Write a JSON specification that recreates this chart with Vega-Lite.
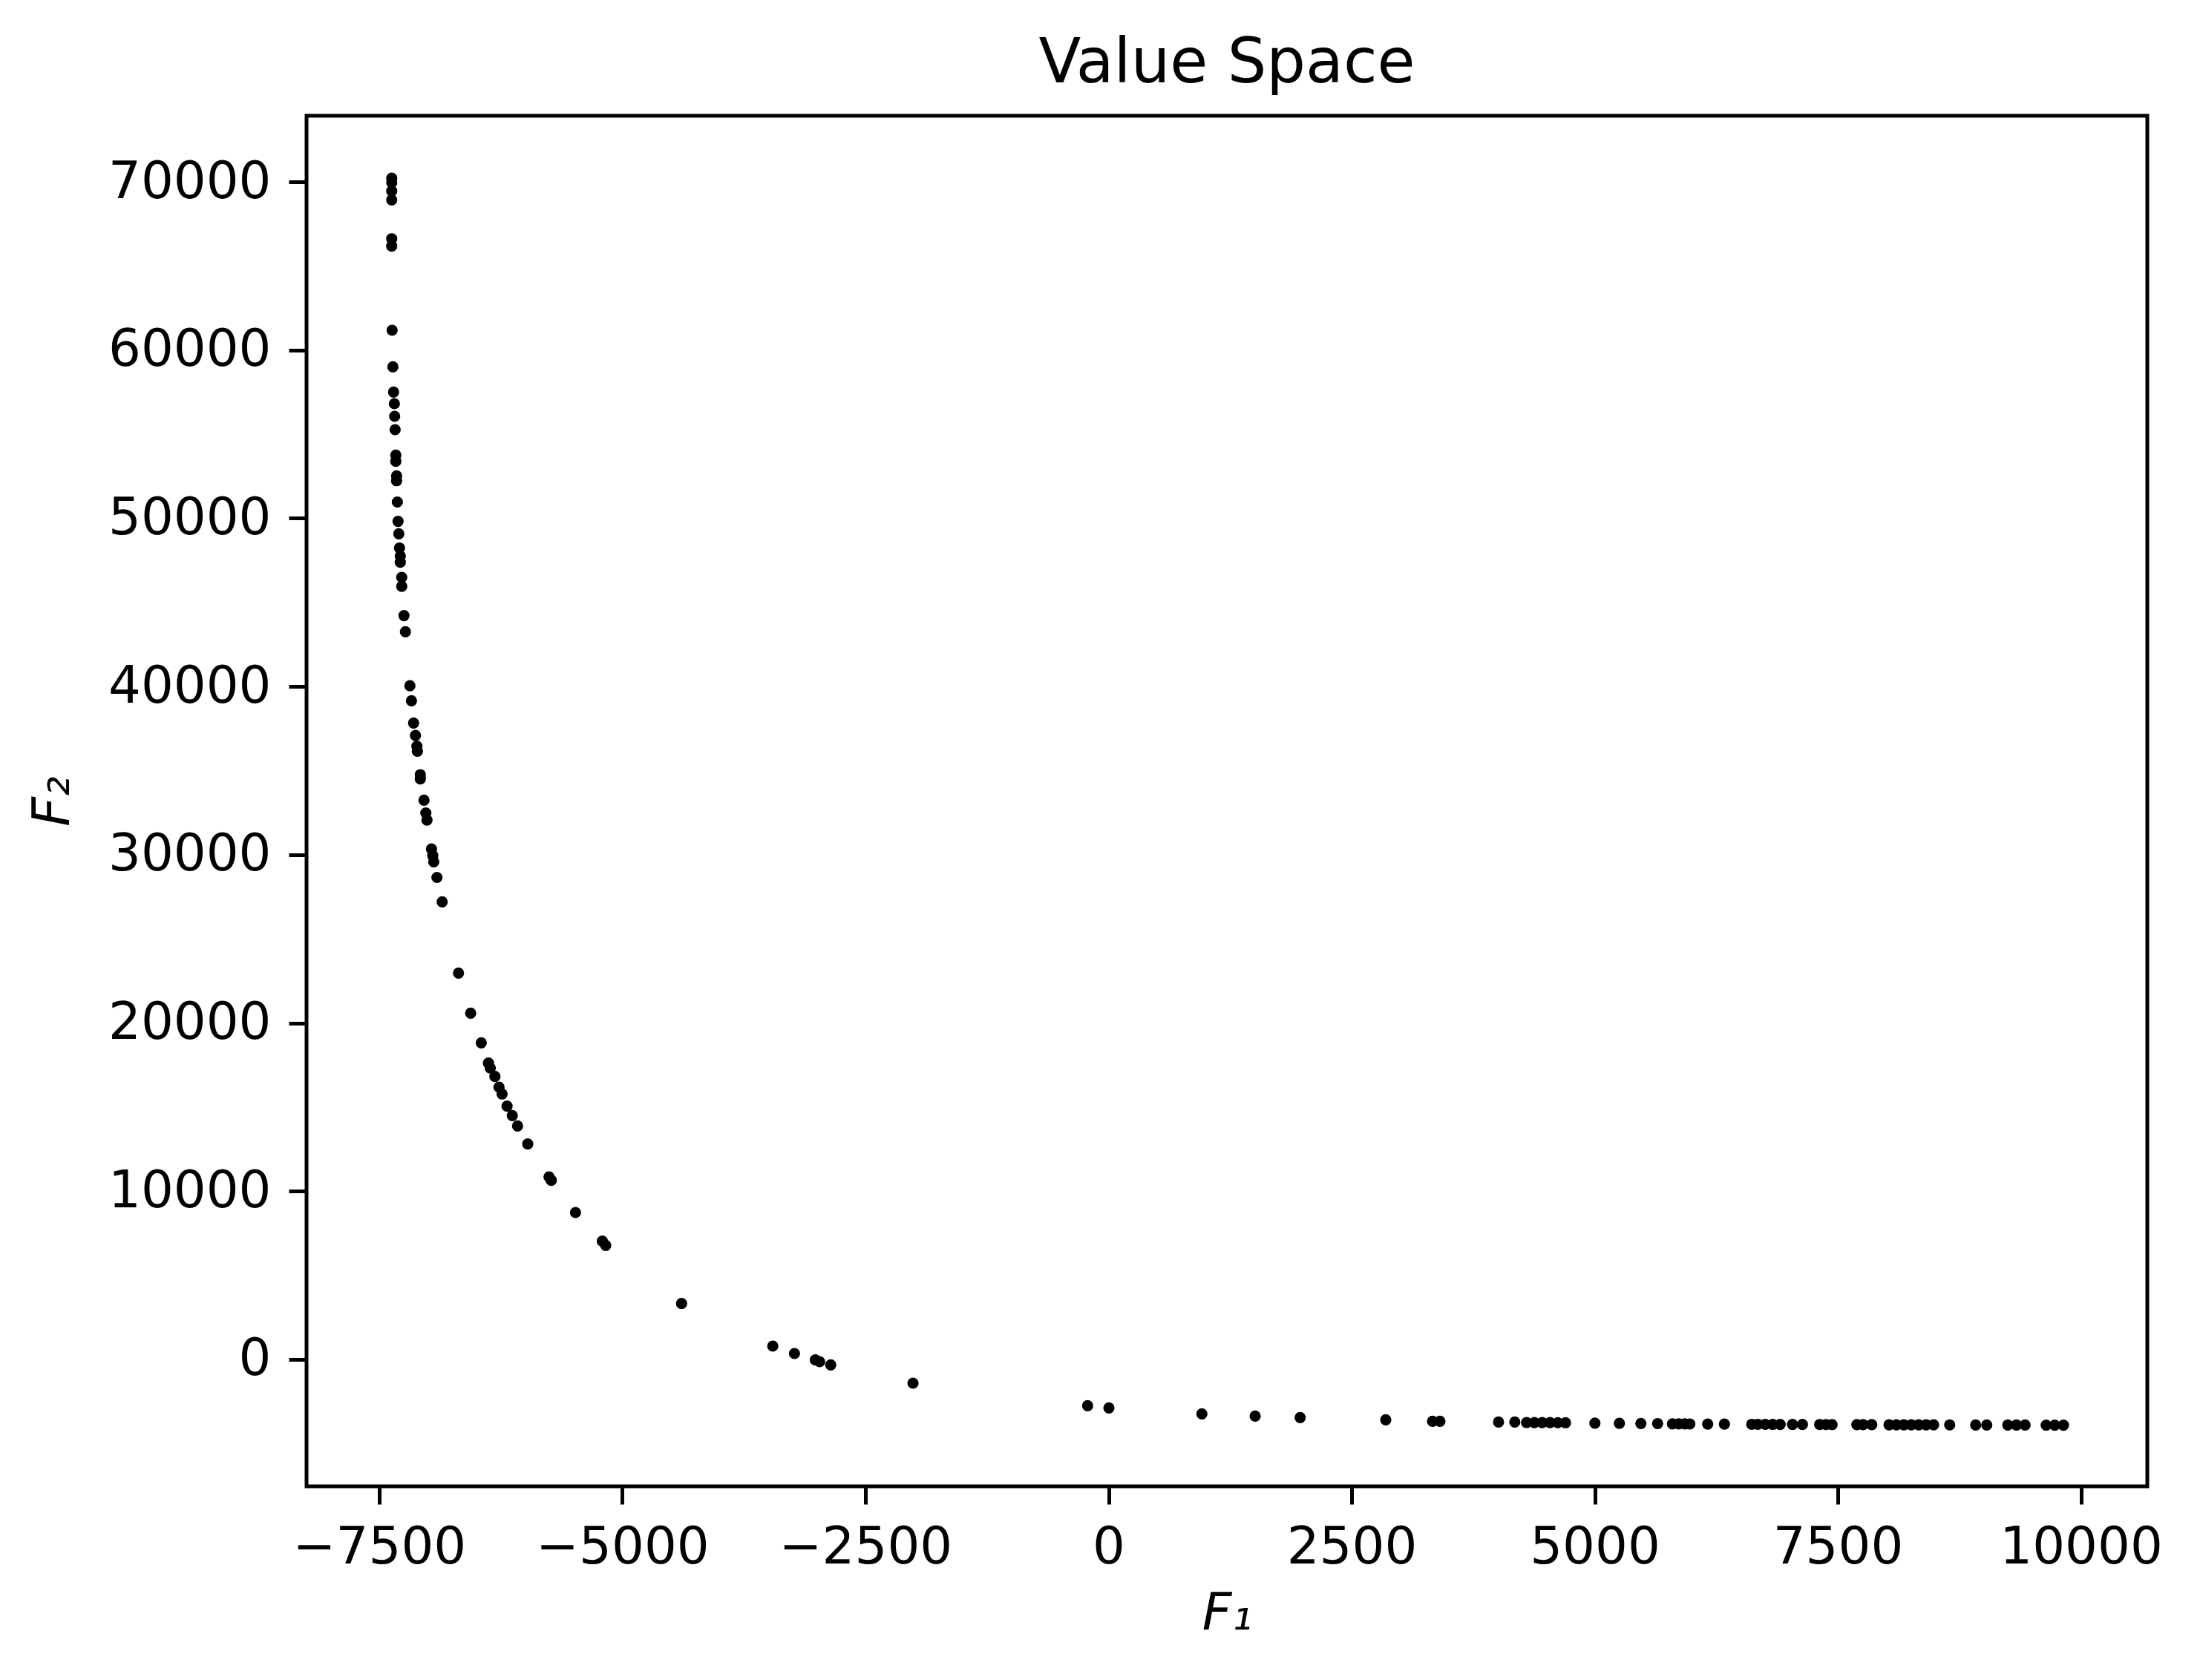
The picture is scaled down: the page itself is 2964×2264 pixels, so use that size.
{
  "$schema": "https://vega.github.io/schema/vega-lite/v6.json",
  "width": 2480,
  "height": 1847,
  "autosize": {"type": "none"},
  "padding": {"left": 413, "top": 156, "right": 71, "bottom": 261},
  "background": "white",
  "title": {"text": "Value Space", "font": "DejaVu Sans", "fontSize": 83, "fontWeight": "normal", "color": "black", "offset": 42, "baseline": "alphabetic", "dy": 80},
  "config": {
    "view": {"stroke": "black", "strokeWidth": 5},
    "axis": {
      "domain": false, "grid": false,
      "ticks": true, "tickColor": "black", "tickWidth": 5, "tickSize": 24,
      "labelFont": "DejaVu Sans", "labelFontSize": 69, "labelColor": "black", "labelPadding": 24,
      "labelFlush": false, "labelOverlap": false, "labelLimit": 1000,
      "titleFont": "DejaVu Sans", "titleFontSize": 69, "titleFontWeight": "normal", "titleFontStyle": "italic", "titleColor": "black"
    }
  },
  "data": {"values": [
    {"F1": -7372, "F2": 70225}, {"F1": -7372, "F2": 69960}, {"F1": -7372, "F2": 69462}, {"F1": -7372, "F2": 68932},
    {"F1": -7372, "F2": 66620}, {"F1": -7372, "F2": 66180}, {"F1": -7368, "F2": 61182}, {"F1": -7360, "F2": 59007},
    {"F1": -7353, "F2": 57507}, {"F1": -7345, "F2": 56815}, {"F1": -7342, "F2": 56065}, {"F1": -7337, "F2": 55271},
    {"F1": -7330, "F2": 53757}, {"F1": -7330, "F2": 53387}, {"F1": -7322, "F2": 52524}, {"F1": -7322, "F2": 52237},
    {"F1": -7314, "F2": 50970}, {"F1": -7307, "F2": 49819}, {"F1": -7299, "F2": 49078}, {"F1": -7292, "F2": 48236},
    {"F1": -7284, "F2": 47760}, {"F1": -7284, "F2": 47389}, {"F1": -7269, "F2": 46493}, {"F1": -7269, "F2": 45955},
    {"F1": -7246, "F2": 44217}, {"F1": -7231, "F2": 43255}, {"F1": -7185, "F2": 40044}, {"F1": -7169, "F2": 39153},
    {"F1": -7147, "F2": 37834}, {"F1": -7128, "F2": 37093}, {"F1": -7113, "F2": 36449}, {"F1": -7108, "F2": 36149},
    {"F1": -7078, "F2": 34760}, {"F1": -7078, "F2": 34509}, {"F1": -7040, "F2": 33242}, {"F1": -7021, "F2": 32483},
    {"F1": -7009, "F2": 32060}, {"F1": -6963, "F2": 30340}, {"F1": -6950, "F2": 29952}, {"F1": -6940, "F2": 29581},
    {"F1": -6907, "F2": 28650}, {"F1": -6853, "F2": 27203}, {"F1": -6685, "F2": 22968}, {"F1": -6560, "F2": 20587},
    {"F1": -6451, "F2": 18822}, {"F1": -6377, "F2": 17614}, {"F1": -6358, "F2": 17323}, {"F1": -6311, "F2": 16820},
    {"F1": -6269, "F2": 16189}, {"F1": -6237, "F2": 15779}, {"F1": -6186, "F2": 15056}, {"F1": -6132, "F2": 14499},
    {"F1": -6078, "F2": 13882}, {"F1": -5973, "F2": 12805}, {"F1": -5754, "F2": 10851}, {"F1": -5731, "F2": 10644},
    {"F1": -5482, "F2": 8734}, {"F1": -5206, "F2": 7027}, {"F1": -5171, "F2": 6780}, {"F1": -4391, "F2": 3322},
    {"F1": -3453, "F2": 794}, {"F1": -3230, "F2": 353}, {"F1": -3015, "F2": -31}, {"F1": -2971, "F2": -132},
    {"F1": -2857, "F2": -322}, {"F1": -2011, "F2": -1412}, {"F1": -215, "F2": -2749}, {"F1": 4, "F2": -2880},
    {"F1": 960, "F2": -3233}, {"F1": 1508, "F2": -3366}, {"F1": 1971, "F2": -3454}, {"F1": 2851, "F2": -3587},
    {"F1": 3332, "F2": -3675}, {"F1": 3408, "F2": -3675}, {"F1": 4011, "F2": -3719}, {"F1": 4178, "F2": -3725},
    {"F1": 4299, "F2": -3750}, {"F1": 4380, "F2": -3752}, {"F1": 4460, "F2": -3755}, {"F1": 4540, "F2": -3758},
    {"F1": 4620, "F2": -3760}, {"F1": 4700, "F2": -3762},
    {"F1": 5002, "F2": -3790}, {"F1": 5254, "F2": -3800}, {"F1": 5475, "F2": -3810}, {"F1": 5647, "F2": -3815},
    {"F1": 5800, "F2": -3830}, {"F1": 5864, "F2": -3832}, {"F1": 5927, "F2": -3834}, {"F1": 5978, "F2": -3836},
    {"F1": 6162, "F2": -3840}, {"F1": 6334, "F2": -3845},
    {"F1": 6615, "F2": -3858}, {"F1": 6678, "F2": -3859}, {"F1": 6754, "F2": -3860}, {"F1": 6831, "F2": -3861},
    {"F1": 6907, "F2": -3862}, {"F1": 7034, "F2": -3864}, {"F1": 7136, "F2": -3866},
    {"F1": 7314, "F2": -3870}, {"F1": 7378, "F2": -3871}, {"F1": 7441, "F2": -3872},
    {"F1": 7696, "F2": -3875}, {"F1": 7760, "F2": -3876}, {"F1": 7849, "F2": -3877},
    {"F1": 8027, "F2": -3884}, {"F1": 8103, "F2": -3885}, {"F1": 8179, "F2": -3886}, {"F1": 8256, "F2": -3887},
    {"F1": 8332, "F2": -3888}, {"F1": 8408, "F2": -3889}, {"F1": 8485, "F2": -3890}, {"F1": 8651, "F2": -3892},
    {"F1": 8918, "F2": -3895}, {"F1": 9032, "F2": -3896},
    {"F1": 9248, "F2": -3900}, {"F1": 9337, "F2": -3901}, {"F1": 9426, "F2": -3902},
    {"F1": 9643, "F2": -3905}, {"F1": 9731, "F2": -3906}, {"F1": 9821, "F2": -3907}
  ]},
  "mark": {"type": "circle", "color": "black", "opacity": 1, "size": 230},
  "encoding": {
    "x": {"field": "F1", "type": "quantitative",
      "scale": {"domain": [-8248, 10683], "nice": false, "zero": false},
      "axis": {"values": [-7500, -5000, -2500, 0, 2500, 5000, 7500, 10000], "format": "d", "title": "F₁", "titlePadding": 20}},
    "y": {"field": "F2", "type": "quantitative",
      "scale": {"domain": [-7543, 73930], "nice": false, "zero": false},
      "axis": {"values": [0, 10000, 20000, 30000, 40000, 50000, 60000, 70000], "format": "d", "title": "F₂", "titleX": -307, "titlePadding": 22}}
  }
}
